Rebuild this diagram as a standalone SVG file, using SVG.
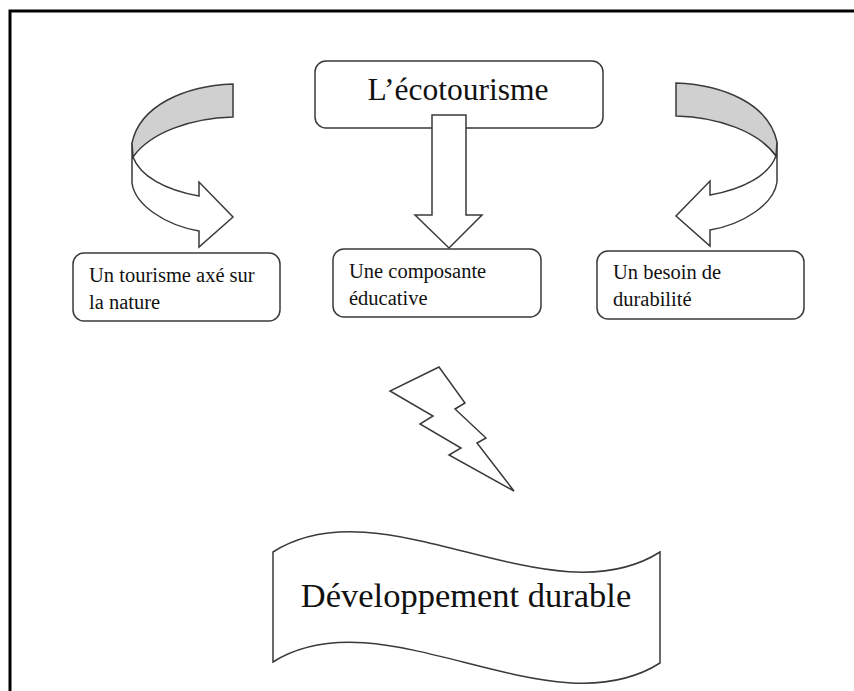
<svg xmlns="http://www.w3.org/2000/svg" width="854" height="691" viewBox="0 0 854 691">
<style>
.sh{fill:#fff;stroke:#3a3a3a;stroke-width:1.5;stroke-linejoin:miter}
.band{fill:#d0d0d0;stroke:#3a3a3a;stroke-width:1.5}
text{font-family:"Liberation Serif","Times New Roman",serif;fill:#111}
</style>
<rect x="0" y="0" width="854" height="691" fill="#fff"/>
<rect x="10" y="11" width="900" height="800" fill="none" stroke="#000" stroke-width="3"/>
<g id="connectors">
  <g id="arrow-left">
    <path class="sh" d="M132,143 L132,183 C135,205 165,225 199,231 L199,247 L233,217 L199,182 L199,196 C165,190 140,176 133,157 Z"/>
    <path class="band" d="M233,84 C185,86 140,105 132,143 L133,157 C150,133 190,118 233,117 Z"/>
  </g>
  <g id="arrow-right" transform="translate(909,-1) scale(-1,1)">
    <path class="sh" d="M132,143 L132,183 C135,205 165,225 199,231 L199,247 L233,217 L199,182 L199,196 C165,190 140,176 133,157 Z"/>
    <path class="band" d="M233,84 C185,86 140,105 132,143 L133,157 C150,133 190,118 233,117 Z"/>
  </g>
</g>
<g id="node-ecotourisme">
  <rect class="sh" x="315" y="61" width="288" height="67" rx="11"/>
  <text x="458" y="100" font-family="Liberation Serif, Times New Roman, serif" font-size="31.5" text-anchor="middle">L’écotourisme</text>
</g>
<g id="arrow-down">
  <polygon class="sh" points="432,115 466,115 466,215 482,215 449,248 415,215 432,215"/>
</g>
<g id="node-nature" font-family="Liberation Serif, Times New Roman, serif" font-size="20.5">
  <rect class="sh" x="73" y="253" width="207" height="68" rx="11"/>
  <text x="89" y="282" font-family="Liberation Serif, Times New Roman, serif" font-size="20.5">Un tourisme axé sur</text>
  <text x="89" y="309" font-family="Liberation Serif, Times New Roman, serif" font-size="20.5">la nature</text>
</g>
<g id="node-educative">
  <rect class="sh" x="333" y="249" width="208" height="68" rx="11"/>
  <text x="349" y="278" font-family="Liberation Serif, Times New Roman, serif" font-size="20.5">Une composante</text>
  <text x="349" y="305" font-family="Liberation Serif, Times New Roman, serif" font-size="20.5">éducative</text>
</g>
<g id="node-durabilite">
  <rect class="sh" x="597" y="251" width="207" height="68" rx="11"/>
  <text x="613" y="279" font-family="Liberation Serif, Times New Roman, serif" font-size="20.5">Un besoin de</text>
  <text x="613" y="306" font-family="Liberation Serif, Times New Roman, serif" font-size="20.5">durabilité</text>
</g>
<g id="lightning">
  <polygon class="sh" points="439,367 390,391 433,416 420,424 461,448 449,455 514,491 477,443 486,438 455,409 465,403"/>
</g>
<g id="node-developpement">
  <path class="sh" d="M273,552 C383,482 550,622 660,552 L660,663 C550,733 383,593 273,662 Z"/>
  <text x="466" y="607" font-family="Liberation Serif, Times New Roman, serif" font-size="34.5" text-anchor="middle">Développement durable</text>
</g>
</svg>
